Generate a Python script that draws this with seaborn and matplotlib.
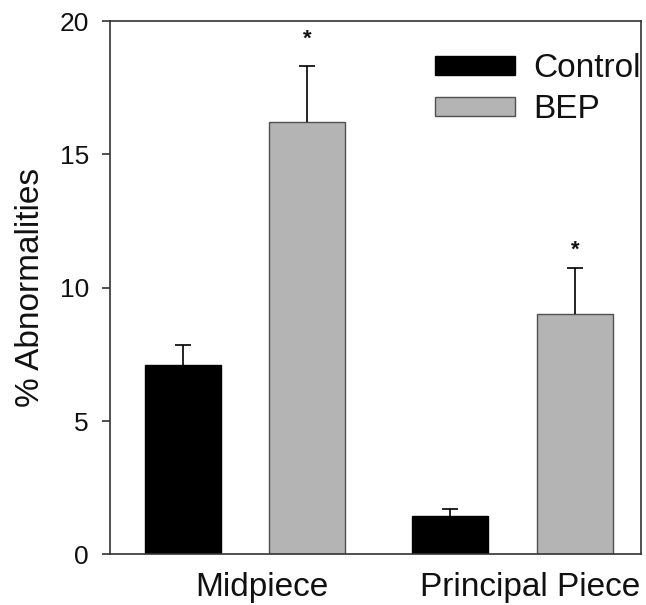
import numpy as np
import pandas as pd
import matplotlib
matplotlib.use('Agg')
import matplotlib.pyplot as plt
import matplotlib.transforms as mtransforms
import seaborn as sns

# valores
regioes = ['Midpiece', 'Principal Piece']
grupos = ['Control', 'BEP']
media_control = [7.1, 1.45]
media_bep = [16.2, 9.0]
erro_control = [0.75, 0.25]
erro_bep = [2.1, 1.75]
signif_bep = ['*', '*']
cores = {'Control': '#000000', 'BEP': '#b4b4b4'}
bordas = {'Control': '#000000', 'BEP': '#505050'}


def main():
    sns.set_style('white')
    plt.rcParams['font.family'] = ['Liberation Sans', 'DejaVu Sans']
    for k in ['text.color', 'axes.labelcolor', 'xtick.color', 'ytick.color']:
        plt.rcParams[k] = '#111111'

    df = pd.DataFrame({
        'regiao': regioes * 2,
        'grupo': ['Control'] * len(regioes) + ['BEP'] * len(regioes),
        'valor': media_control + media_bep,
        'erro': erro_control + erro_bep,
    })

    fig = plt.figure(figsize=(6.46, 6.05), dpi=100)
    ax = fig.add_axes([0.170, 0.0836, 0.822, 0.8816])

    sns.barplot(data=df, x='regiao', y='valor', hue='grupo', order=regioes,
                hue_order=grupos, palette=cores, width=0.93, gap=0.39,
                errorbar=None, ax=ax, saturation=1)

    # bordas e barras de erro (so para cima)
    for container, grupo in zip(ax.containers, grupos):
        sub = df[df['grupo'] == grupo]
        for patch, (_, row) in zip(container.patches, sub.iterrows()):
            patch.set_edgecolor(bordas[grupo])
            patch.set_linewidth(1.0)
            xc = patch.get_x() + patch.get_width() / 2
            eb = ax.errorbar(xc, row['valor'], yerr=[[0], [row['erro']]], fmt='none',
                             ecolor='black', elinewidth=1.2, capsize=6, capthick=1.2)
            eb[1][0].set_visible(False)

    # asteriscos
    sub = df[df['grupo'] == 'BEP']
    offsets = [12, 5]
    for patch, (_, row), s, off in zip(ax.containers[1].patches, sub.iterrows(), signif_bep, offsets):
        xc = patch.get_x() + patch.get_width() / 2
        ax.annotate(s, (xc, row['valor'] + row['erro']), xytext=(0, off),
                    textcoords='offset points', ha='center', va='bottom',
                    fontsize=16, fontweight='bold')

    ax.set_ylim(0, 20)
    ax.set_xlim(-0.504, 1.478)
    ax.set_yticks([0, 5, 10, 15, 20])
    ax.tick_params(axis='y', direction='out', length=6, width=1.2, pad=9,
                   labelsize=19, left=True, color='#333333')
    ax.tick_params(axis='x', length=0, pad=13, labelsize=24)
    ax.set_xlabel('')
    ax.set_ylabel('% Abnormalities', fontsize=24, labelpad=10)

    desloc = mtransforms.ScaledTranslation(17 / 100, 0, fig.dpi_scale_trans)
    for lbl in ax.get_xticklabels():
        lbl.set_transform(lbl.get_transform() + desloc)

    for sp in ax.spines.values():
        sp.set_visible(True)
        sp.set_color('#333333')
        sp.set_linewidth(1.2)

    leg = ax.legend(loc='upper right', bbox_to_anchor=(1.0, 0.94), frameon=False,
                    fontsize=24, handlelength=2.4, handleheight=0.5,
                    handletextpad=0.55, labelspacing=0.3, borderpad=0,
                    borderaxespad=0)
    for h, grupo in zip(leg.legend_handles, grupos):
        h.set_edgecolor(bordas[grupo])
        h.set_linewidth(1.0)

    fig.savefig('out.png', dpi=100)
    plt.close(fig)


if __name__ == "__main__":
    main()
